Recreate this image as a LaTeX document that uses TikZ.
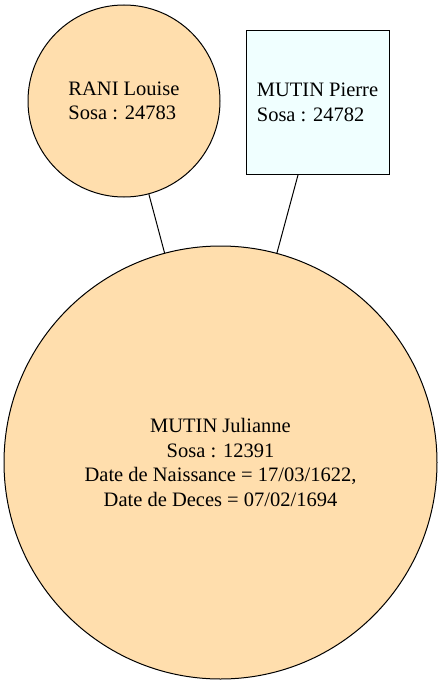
\documentclass[tikz,border=0pt]{standalone}
\usepackage{fontspec}
\setmainfont{Liberation Serif}
\newfontfamily\gedfont{Liberation Serif}
\usepackage{xcolor}
\usepackage{tikz}
\usetikzlibrary{positioning,shapes.geometric}

\definecolor{femme}{HTML}{FFDEAD}
\definecolor{homme}{HTML}{F0FFFF}

\begin{document}
\begin{tikzpicture}[
  x=1pt, y=1pt,
  pers/.style={draw, line width=1pt, inner sep=0pt,
    font=\gedfont\fontsize{20.5}{24.5}\selectfont},
  fem/.style={pers, circle, fill=femme},
  hom/.style={pers, rectangle, fill=homme, minimum size=143pt},
  lien/.style={line width=1pt, color=black}
]
\useasboundingbox (0,0) rectangle (442,-685);

\node[fem, minimum size=192pt, align=left] (louise) at (124,-101) {RANI Louise\\Sosa : 24783};
\node[hom, align=left] (pierre) at (317.5,-102.5) {MUTIN Pierre\\Sosa : 24782};
\node[fem, minimum size=433pt, align=center] (julianne) at (220.5,-462.5)
  {MUTIN Julianne\\Sosa : 12391\\Date de Naissance = 17/03/1622,\\Date de Deces = 07/02/1694};

\draw[lien] (louise) -- (julianne);
\draw[lien] (pierre) -- (julianne);
\end{tikzpicture}
\end{document}
